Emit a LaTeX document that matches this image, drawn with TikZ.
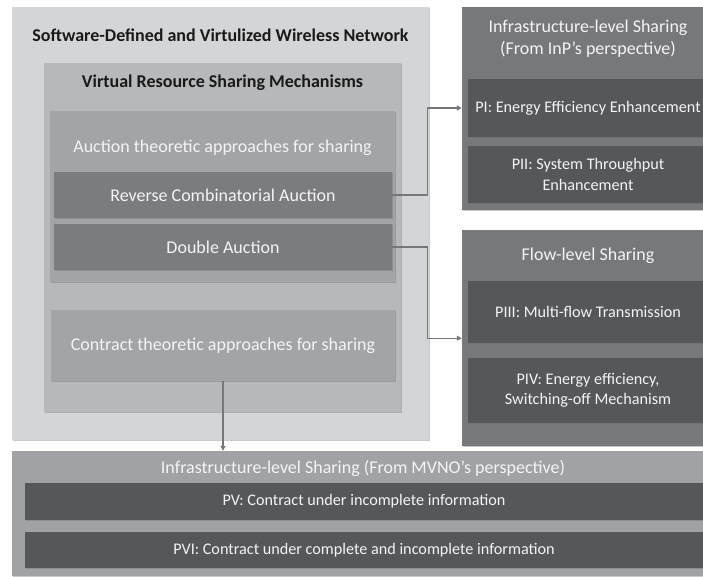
\documentclass[tikz,border=0pt]{standalone}
\usepackage{fontspec}
\setmainfont{Carlito}
\usetikzlibrary{arrows.meta,shadows,calc}
\definecolor{sdnbg}{HTML}{D4D5D7}
\definecolor{virtbg}{HTML}{B6B8BA}
\definecolor{appbg}{HTML}{A2A4A7}
\definecolor{auctbg}{HTML}{7B7C80}
\definecolor{sharebg}{HTML}{77787B}
\definecolor{itembg}{HTML}{55575A}
\definecolor{mvnobg}{HTML}{A0A2A5}
\definecolor{conncol}{HTML}{76777A}
\definecolor{lighttxt}{HTML}{F4F4F4}
\tikzset{
  panel/.style={rectangle, inner sep=0pt, draw=none,
    drop shadow={shadow xshift=0.6pt, shadow yshift=-1.4pt, opacity=0.35, fill=black!60}},
  lbl/.style={inner sep=0pt, align=center, text=lighttxt, font=\fontsize{18}{22}\selectfont},
  itemtxt/.style={lbl, font=\fontsize{16.2}{20.5}\selectfont},
  darktitle/.style={inner sep=0pt, align=center, text=black!90, font=\bfseries\fontsize{18}{22}\selectfont},
  conn/.style={draw=conncol, line width=1.4pt, -{Triangle[length=5pt,width=5pt]}},
}
\begin{document}
\begin{tikzpicture}[x=1pt,y=-1pt]
\useasboundingbox[fill=white] (0,0) rectangle (703,576);

% left column: the network and its sharing mechanisms
\node[panel, fill=sdnbg, minimum width=417, minimum height=433] (SDN) at (220.5,223.5) {};
\node[darktitle] (SDNt) at (220.5,35) {Software-Defined and Virtulized Wireless Network};
\node[panel, fill=virtbg, minimum width=357, minimum height=349] (VRS) at (222.5,237.5) {};
\node[darktitle] (VRSt) at (222.5,83) {Virtual Resource Sharing Mechanisms};
\node[panel, fill=appbg, minimum width=345, minimum height=171] (AUC) at (222.5,196.5) {};
\node[lbl] (AUCt) at (222.5,148) {Auction theoretic approaches for sharing};
\node[panel, fill=auctbg, minimum width=338, minimum height=46, lbl] (RCA) at (223,195) {Reverse Combinatorial Auction};
\node[panel, fill=auctbg, minimum width=338, minimum height=46, lbl] (DA) at (223,247) {Double Auction};
\node[panel, fill=appbg, minimum width=344, minimum height=71, lbl] (CON) at (223,345.5) {Contract theoretic approaches for sharing};

% right column: infrastructure-level sharing (InP); panels run on past the right edge
\node[panel, fill=sharebg, minimum width=252, minimum height=203] (INP) at (588,108.5) {};
\node[lbl] (INPt) at (588,38.5) {Infrastructure-level Sharing\\(From InP’s perspective)};
\node[panel, fill=itembg, minimum width=240, minimum height=58, itemtxt] (PI) at (588,108) {PI: Energy Efficiency Enhancement};
\node[panel, fill=itembg, minimum width=240, minimum height=57, itemtxt] (PII) at (588,174.5) {PII: System Throughput\\Enhancement};

% right column: flow-level sharing
\node[panel, fill=sharebg, minimum width=252, minimum height=216] (FLW) at (588,338) {};
\node[lbl] (FLWt) at (588,256) {Flow-level Sharing};
\node[panel, fill=itembg, minimum width=240, minimum height=62, itemtxt] (PIII) at (588,312) {PIII: Multi-flow Transmission};
\node[panel, fill=itembg, minimum width=240, minimum height=65, itemtxt] (PIV) at (588,390.5) {PIV: Energy efficiency,\\Switching-off Mechanism};

% bottom band: infrastructure-level sharing (MVNO)
\node[panel, fill=mvnobg, minimum width=693, minimum height=125] (MVNO) at (358.5,513.5) {};
\node[lbl] (MVNOt) at (363,468) {Infrastructure-level Sharing (From MVNO’s perspective)};
\node[panel, fill=itembg, minimum width=678, minimum height=37, itemtxt] (PV) at (364,501.5) {PV: Contract under incomplete information};
\node[panel, fill=itembg, minimum width=678, minimum height=36, itemtxt] (PVI) at (364,550) {PVI: Contract under complete and incomplete information};

% connectors
\coordinate (flowin) at ($(FLW.west |- PIII.south)+(0,-5)$);
\draw[conn] (RCA.east) -- ++(35,0) |- (INP.west |- PI.center);
\draw[conn] (DA.east) -- ++(35,0) |- (flowin);
\draw[conn] (CON.south) -- (CON.south |- MVNO.north);
\end{tikzpicture}
\end{document}
